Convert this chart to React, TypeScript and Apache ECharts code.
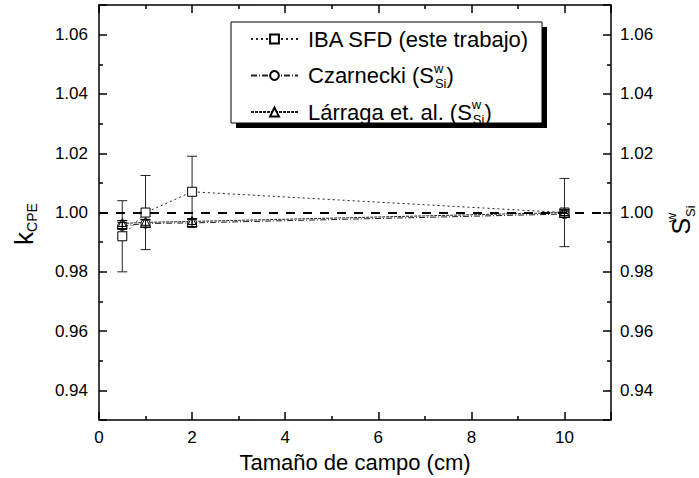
import React, { useEffect, useRef } from 'react';
import * as echarts from 'echarts';

const fieldSizes = [0.5, 1, 2, 10];
const ibaValues = [0.992, 1.0, 1.007, 1.0];
const ibaErrors = [0.012, 0.0125, 0.012, 0.0115];
const czarneckiValues = [0.9955, 0.9963, 0.9965, 0.9995];
const czarneckiErrors = [0.0012, 0.0012, 0.0012, 0.001];
const larragaValues = [0.9963, 0.9967, 0.997, 1.0];
const larragaErrors = [0.001, 0.001, 0.001, 0.001];
const referenceValue = 1.0;
const seriesNames = ['IBA SFD (este trabajo)', 'Czarnecki', 'Lárraga et. al.'];
const xTitle = 'Tamaño de campo (cm)';

const FONT = '"Liberation Sans", Arial, sans-serif';

function pairs(vals: number[]) {
  return fieldSizes.map((x, i) => [x, vals[i]]);
}
function errs(vals: number[], e: number[]) {
  return fieldSizes.map((x, i) => [x, vals[i] - e[i], vals[i] + e[i]]);
}

function errorRender(capHalf: number, color: string) {
  return (params: any, api: any) => {
    const x = api.value(0);
    const lo = api.value(1);
    const hi = api.value(2);
    const p1 = api.coord([x, hi]);
    const p2 = api.coord([x, lo]);
    const st = { stroke: color, lineWidth: 1 };
    return {
      type: 'group',
      children: [
        { type: 'line', shape: { x1: p1[0], y1: p1[1], x2: p2[0], y2: p2[1] }, style: st },
        { type: 'line', shape: { x1: p1[0] - capHalf, y1: p1[1], x2: p1[0] + capHalf, y2: p1[1] }, style: st },
        { type: 'line', shape: { x1: p2[0] - capHalf, y1: p2[1], x2: p2[0] + capHalf, y2: p2[1] }, style: st },
      ],
    };
  };
}

export default function App() {
  const ref = useRef<HTMLDivElement>(null);
  useEffect(() => {
    if (!ref.current) return;
    const chart = echarts.init(ref.current, null, { renderer: 'svg' });
    const axisCommon = {
      axisLine: { show: true, onZero: false, lineStyle: { color: '#000', width: 1.5 } },
      axisTick: { show: true, inside: true, length: 8, lineStyle: { color: '#000', width: 1.5 } },
      minorTick: { show: true, splitNumber: 2, length: 4, lineStyle: { color: '#000', width: 1.5 } },
      splitLine: { show: false },
      minorSplitLine: { show: false },
    };
    const richSup = {
      sup: { fontSize: 13, lineHeight: 10, verticalAlign: 'top', width: 1, align: 'left', fontFamily: FONT, color: '#000' },
      sub: { fontSize: 13, lineHeight: 10, verticalAlign: 'bottom', fontFamily: FONT, color: '#000' },
    };
    const option: any = {
      animation: false,
      backgroundColor: '#fff',
      grid: { left: 99, right: 88, top: 5, bottom: 53, containLabel: false },
      xAxis: [
        {
          type: 'value', min: 0, max: 11, interval: 2, position: 'bottom',
          ...axisCommon,
          axisLabel: { show: true, margin: 9, fontSize: 17, color: '#000', fontFamily: FONT, showMaxLabel: false },
          name: xTitle, nameLocation: 'middle', nameGap: 28,
          nameTextStyle: { fontSize: 22, color: '#000', fontFamily: FONT },
        },
        {
          type: 'value', min: 0, max: 11, interval: 2, position: 'top',
          ...axisCommon,
          axisLabel: { show: false },
        },
      ],
      yAxis: [
        {
          type: 'value', min: 0.93, max: 1.07, splitNumber: 7, position: 'left',
          ...axisCommon,
          axisLabel: {
            show: true, margin: 11, fontSize: 17, color: '#000', fontFamily: FONT,
            showMinLabel: false, showMaxLabel: false,
            formatter: (v: number) => v.toFixed(2),
          },
        },
        {
          type: 'value', min: 0.93, max: 1.07, splitNumber: 7, position: 'right',
          ...axisCommon,
          axisLabel: {
            show: true, margin: 9, fontSize: 17, color: '#000', fontFamily: FONT,
            showMinLabel: false, showMaxLabel: false,
            formatter: (v: number) => v.toFixed(2),
          },
        },
      ],
      legend: {
        show: true,
        orient: 'vertical',
        left: 250,
        top: 25,
        padding: 0,
        itemWidth: 47,
        itemHeight: 11,
        itemGap: 8.5,
        z: 10,
        data: seriesNames,
        textStyle: { fontSize: 22, lineHeight: 28, color: '#000', fontFamily: FONT, padding: [0, 0, 0, 5], rich: richSup },
        formatter: (name: string) => (name === seriesNames[0] ? name : `${name} (S{sup|w}{sub|Si})`),
      },
      graphic: [
        { type: 'rect', z: 5, shape: { x: 236, y: 27, width: 311, height: 101 }, style: { fill: '#000' } },
        { type: 'rect', z: 6, shape: { x: 231, y: 22, width: 311, height: 101 }, style: { fill: '#fff', stroke: '#000', lineWidth: 1 } },
        {
          type: 'text', z: 10, x: 24, y: 224, rotation: Math.PI / 2,
          style: {
            text: '{k|k}{c|CPE}', align: 'center', verticalAlign: 'middle',
            rich: {
              k: { fontSize: 26, lineHeight: 30, fontFamily: FONT, color: '#000' },
              c: { fontSize: 14, lineHeight: 14, verticalAlign: 'bottom', fontFamily: FONT, color: '#000' },
            },
          },
        },
        {
          type: 'text', z: 10, x: 681, y: 220, rotation: Math.PI / 2,
          style: {
            text: '{s|S}{w|w}{i|Si}', align: 'center', verticalAlign: 'middle',
            rich: {
              s: { fontSize: 25, lineHeight: 32, fontFamily: FONT, color: '#000' },
              w: { fontSize: 13, lineHeight: 11, verticalAlign: 'top', width: 1, align: 'left', fontFamily: FONT, color: '#000' },
              i: { fontSize: 13, lineHeight: 11, verticalAlign: 'bottom', fontFamily: FONT, color: '#000' },
            },
          },
        },
      ],
      series: [
        {
          type: 'custom', name: 'iba-err', z: 1, silent: true,
          renderItem: errorRender(5, '#222'),
          encode: { x: 0, y: [1, 2] },
          data: errs(ibaValues, ibaErrors),
        },
        {
          type: 'line', name: seriesNames[0], z: 2,
          data: pairs(ibaValues),
          symbol: 'rect', symbolSize: 9, showSymbol: true,
          lineStyle: { color: '#222', width: 1, type: [2, 3] },
          itemStyle: { color: '#fff', borderColor: '#000', borderWidth: 1 },
          markLine: {
            silent: true, symbol: 'none', label: { show: false },
            lineStyle: { color: '#000', width: 2, type: [9, 8] },
            data: [{ yAxis: referenceValue }],
          },
        },
        {
          type: 'line', name: seriesNames[1], z: 2,
          data: pairs(czarneckiValues),
          symbol: 'circle', symbolSize: 9, showSymbol: true,
          lineStyle: { color: '#222', width: 1, type: [6, 2, 1, 2] },
          itemStyle: { color: '#fff', borderColor: '#000', borderWidth: 1 },
        },
        {
          type: 'line', name: seriesNames[2], z: 2,
          data: pairs(larragaValues),
          symbol: 'triangle', symbolSize: 10, showSymbol: true,
          lineStyle: { color: '#222', width: 1, type: [3, 1] },
          itemStyle: { color: '#fff', borderColor: '#000', borderWidth: 1 },
        },
        {
          type: 'custom', name: 'czar-err', z: 3, silent: true,
          renderItem: errorRender(5, '#000'),
          encode: { x: 0, y: [1, 2] },
          data: errs(czarneckiValues, czarneckiErrors),
        },
        {
          type: 'custom', name: 'larr-err', z: 3, silent: true,
          renderItem: errorRender(5, '#000'),
          encode: { x: 0, y: [1, 2] },
          data: errs(larragaValues, larragaErrors),
        },
      ],
    };
    chart.setOption(option);
    return () => chart.dispose();
  }, []);
  return <div ref={ref} style={{ position: 'fixed', left: 0, top: 0, width: 699, height: 478 }} />;
}
